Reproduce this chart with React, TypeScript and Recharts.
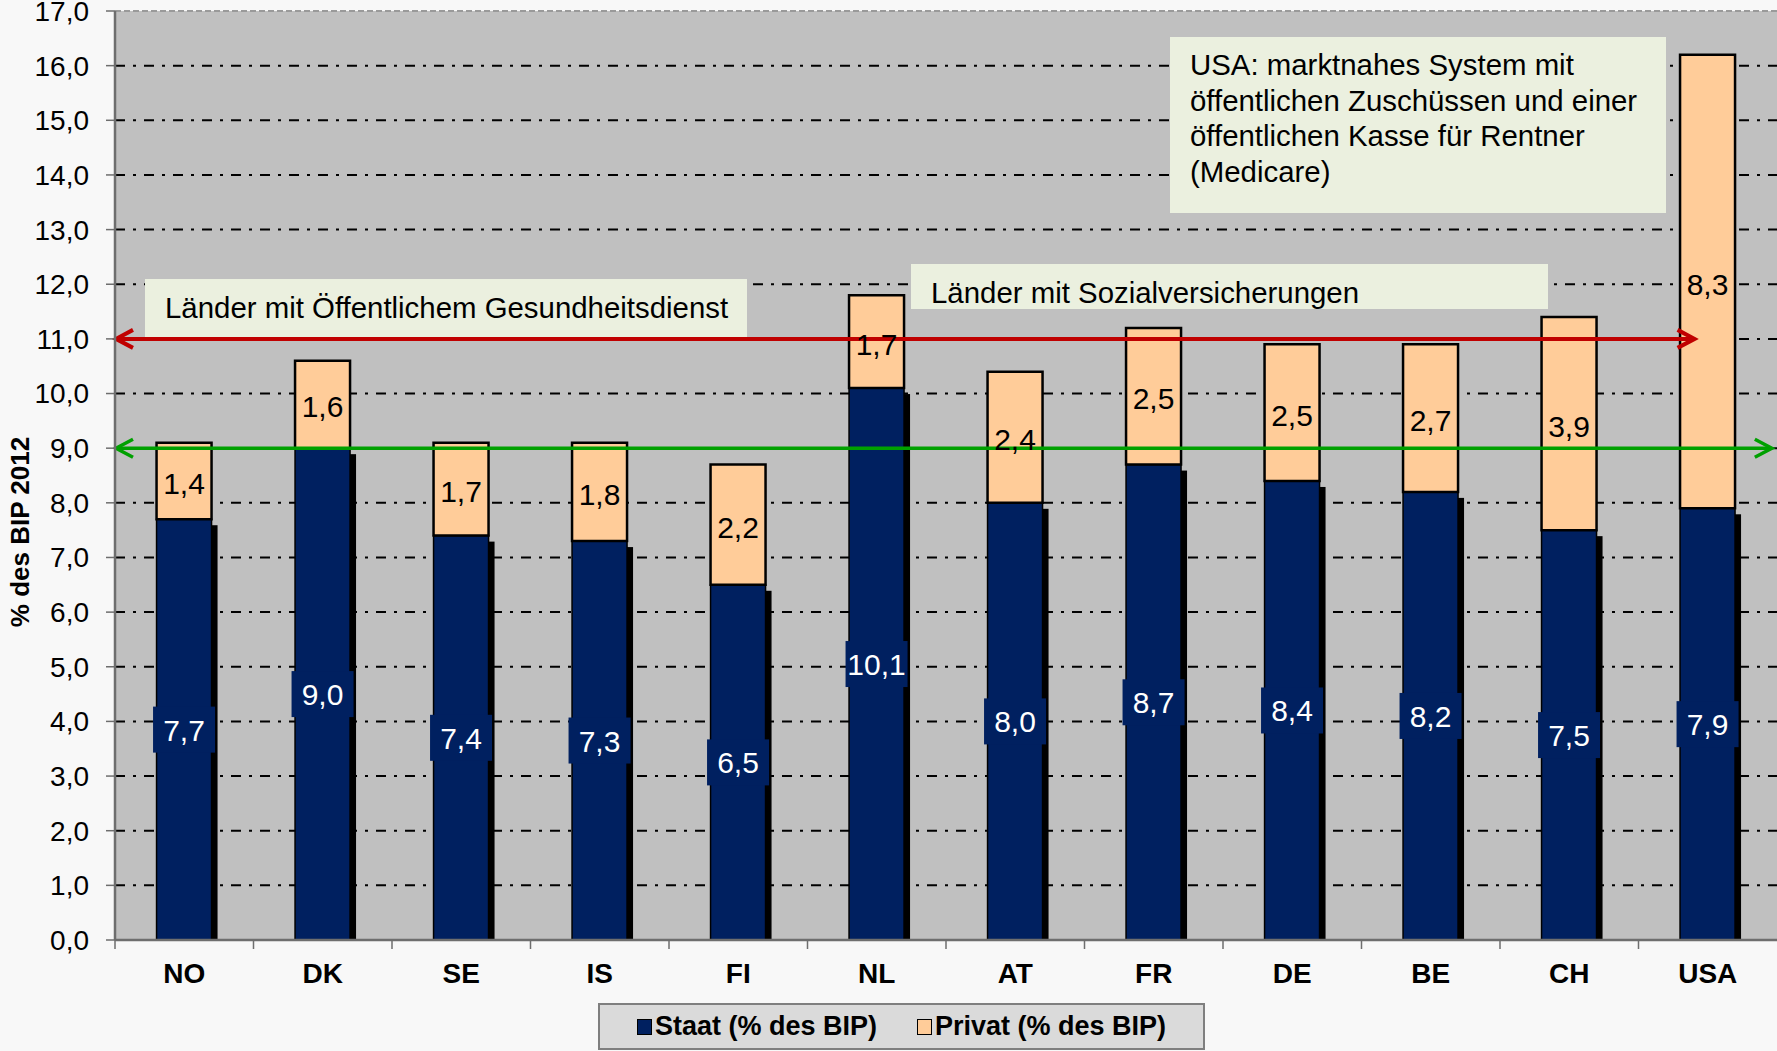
import React from 'react';
import {
  ComposedChart,
  Bar,
  XAxis,
  YAxis,
  CartesianGrid,
  LabelList,
  Legend,
  ReferenceLine,
  Customized,
} from 'recharts';

const categories = ['NO', 'DK', 'SE', 'IS', 'FI', 'NL', 'AT', 'FR', 'DE', 'BE', 'CH', 'USA'];
const staat = [7.7, 9.0, 7.4, 7.3, 6.5, 10.1, 8.0, 8.7, 8.4, 8.2, 7.5, 7.9];
const privat = [1.4, 1.6, 1.7, 1.8, 2.2, 1.7, 2.4, 2.5, 2.5, 2.7, 3.9, 8.3];
const yTicks = [0, 1, 2, 3, 4, 5, 6, 7, 8, 9, 10, 11, 12, 13, 14, 15, 16, 17];
const gridValues = [1, 2, 3, 4, 5, 6, 7, 8, 9, 10, 11, 12, 13, 14, 15, 16];
const usaNote = [
  'USA: marktnahes System mit',
  'öffentlichen Zuschüssen und einer',
  'öffentlichen Kasse für Rentner',
  '(Medicare)',
];

const W = 1777;
const H = 1051;
const Y_AXIS_W = 115;
const BAND = (W - Y_AXIS_W) / categories.length;
const FONT = '"Liberation Sans", Arial, sans-serif';
const NAVY = '#002060';
const PEACH = '#ffcc99';

const data = categories.map((c, i) => ({ land: c, staat: staat[i], privat: privat[i] }));

const fmt = (v: number) => v.toFixed(1).replace('.', ',');

// dark bars carry a black drop shadow
const StaatShape = (props: any) => {
  const { x, y, width, height } = props;
  if (!height) return null;
  return (
    <g>
      <rect x={x + 6} y={y + 6} width={width} height={Math.max(height - 6, 0)} fill="#000" />
      <rect x={x} y={y} width={width} height={height} fill={NAVY} stroke="#000" strokeWidth={1.5} />
    </g>
  );
};

const StaatLabel = (props: any) => {
  const vb = props.viewBox ?? props;
  const cx = vb.x + vb.width / 2;
  const cy = vb.y + vb.height / 2;
  return (
    <g>
      <rect x={cx - 31} y={cy - 23} width={62} height={46} fill={NAVY} />
      <text x={cx} y={cy + 11} textAnchor="middle" fill="#fff" fontSize={30} fontFamily={FONT}>
        {fmt(Number(props.value))}
      </text>
    </g>
  );
};

const PrivatLabel = (props: any) => {
  const vb = props.viewBox ?? props;
  const cx = vb.x + vb.width / 2;
  const cy = vb.y + vb.height / 2;
  return (
    <text x={cx} y={cy + 13} textAnchor="middle" fill="#000" fontSize={30} fontFamily={FONT}>
      {fmt(Number(props.value))}
    </text>
  );
};

// category label plus a tick mark at the left band boundary
const CategoryTick = (props: any) => {
  const { x, y, payload } = props;
  return (
    <g>
      <line x1={x - BAND / 2} x2={x - BAND / 2} y1={y} y2={y + 9} stroke="#6e6e6e" strokeWidth={1.5} />
      <text x={x} y={y + 43} textAnchor="middle" fontSize={28} fontWeight="bold" fontFamily={FONT} fill="#000">
        {payload.value}
      </text>
    </g>
  );
};

const arrow = (color: string, width: number, endFrac: number) => (props: any) => {
  const { x1, y1, x2 } = props;
  const xe = x1 + (x2 - x1) * endFrac;
  const y = y1;
  return (
    <g fill="none" stroke={color} strokeWidth={width}>
      <line x1={x1 + 2} x2={xe - 2} y1={y} y2={y} />
      <polyline points={`${x1 + 18},${y - 9} ${x1 + 1},${y} ${x1 + 18},${y + 9}`} />
      <polyline points={`${xe - 18},${y - 9} ${xe - 1},${y} ${xe - 18},${y + 9}`} />
    </g>
  );
};

const NoteBox = ({ x, y, w, h, lines, baseline }: any) => (
  <g>
    <rect x={x} y={y} width={w} height={h} fill="#ebf0df" />
    {lines.map((t: string, i: number) => (
      <text key={i} x={x + 20} y={y + baseline + i * 35.5} fontSize={29.4} fontFamily={FONT} fill="#000">
        {t}
      </text>
    ))}
  </g>
);

const Notes = () => (
  <g>
    <NoteBox x={145} y={279} w={602} h={59} lines={['Länder mit Öffentlichem Gesundheitsdienst']} baseline={39} />
    <NoteBox x={911} y={264} w={637} h={45} lines={['Länder mit Sozialversicherungen']} baseline={39} />
    <NoteBox x={1170} y={37} w={496} h={176} lines={usaNote} baseline={38} />
  </g>
);

const LegendBox = () => (
  <div
    style={{
      width: 603,
      height: 43,
      background: '#dadada',
      border: '2px solid #7f7f7f',
      display: 'flex',
      alignItems: 'center',
      justifyContent: 'center',
      gap: 40,
      fontFamily: FONT,
      fontWeight: 'bold',
      fontSize: 27,
      color: '#000',
    }}
  >
    {[
      { name: 'Staat (% des BIP)', color: NAVY },
      { name: 'Privat (% des BIP)', color: PEACH },
    ].map((it) => (
      <div key={it.name} style={{ display: 'flex', alignItems: 'center', gap: 3 }}>
        <span style={{ width: 13, height: 14, background: it.color, border: '1.5px solid #000', display: 'inline-block' }} />
        <span>{it.name}</span>
      </div>
    ))}
  </div>
);

export default function App() {
  return (
    <div style={{ width: W, height: H, background: '#f8f8f8', position: 'relative' }}>
      <style>{'body{margin:0;background:#f8f8f8}'}</style>
      <ComposedChart
        width={W}
        height={H}
        data={data}
        margin={{ top: 11, right: 0, bottom: 0, left: 0 }}
        barCategoryGap="30%"
      >
        <CartesianGrid
          vertical={false}
          horizontalValues={gridValues}
          fill="#c0c0c0"
          stroke="#000"
          strokeWidth={2}
          strokeDasharray="10 8 3 8"
        />
        <Customized component={Notes} />
        <XAxis
          dataKey="land"
          height={111}
          interval={0}
          tickLine={false}
          tickSize={0}
          tickMargin={0}
          tick={<CategoryTick />}
          axisLine={{ stroke: '#6e6e6e', strokeWidth: 2.5 }}
        />
        <YAxis
          width={Y_AXIS_W}
          domain={[0, 17]}
          ticks={yTicks}
          interval={0}
          tickFormatter={fmt}
          tickSize={9}
          tickMargin={17}
          tick={{ fill: '#000', fontSize: 28, fontFamily: FONT }}
          tickLine={{ stroke: '#6e6e6e', strokeWidth: 1.5 }}
          axisLine={{ stroke: '#6e6e6e', strokeWidth: 2.5 }}
          label={{
            content: () => (
              <text
                x={29}
                y={532}
                transform="rotate(-90, 29, 532)"
                textAnchor="middle"
                fontSize={26}
                fontWeight="bold"
                fontFamily={FONT}
                fill="#000"
              >
                % des BIP 2012
              </text>
            ),
          }}
        />
        <Legend
          layout="horizontal"
          verticalAlign="middle"
          align="center"
          wrapperStyle={{ left: 598, top: 1003, width: 607, height: 47 }}
          content={<LegendBox />}
        />
        <Bar dataKey="staat" name="Staat (% des BIP)" stackId="a" fill={NAVY} shape={<StaatShape />} isAnimationActive={false}>
          <LabelList dataKey="staat" content={<StaatLabel />} />
        </Bar>
        <Bar
          dataKey="privat"
          name="Privat (% des BIP)"
          stackId="a"
          fill={PEACH}
          stroke="#000"
          strokeWidth={2.5}
          isAnimationActive={false}
        >
          <LabelList dataKey="privat" content={<PrivatLabel />} />
        </Bar>
        <ReferenceLine y={17} stroke="#9a9a9a" strokeDasharray="6 3" strokeWidth={2} />
        <ReferenceLine y={11} shape={arrow('#c00000', 4, 0.951)} />
        <ReferenceLine y={9} shape={arrow('#00a000', 3.5, 0.9975)} />
      </ComposedChart>
    </div>
  );
}
